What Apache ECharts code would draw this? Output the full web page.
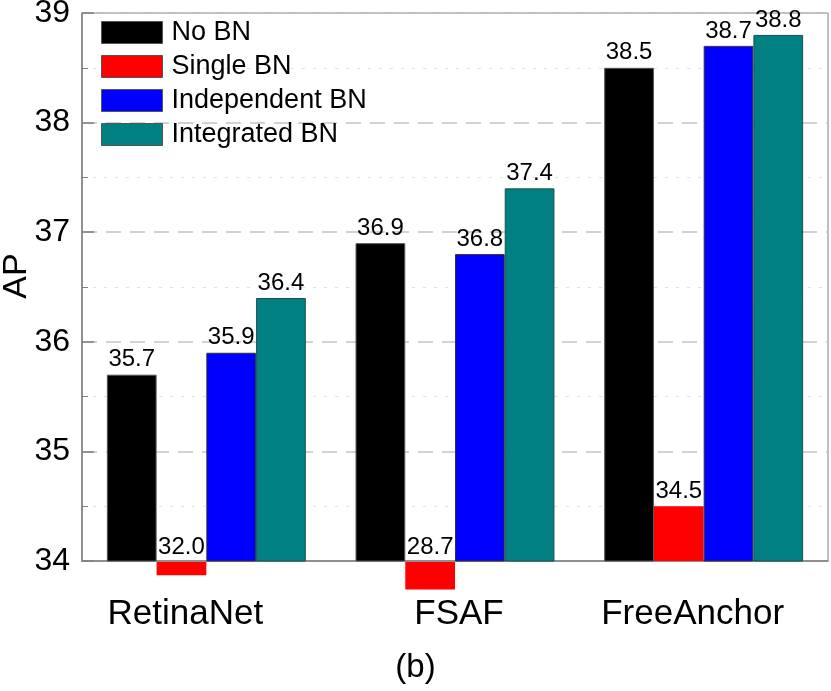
<!DOCTYPE html>
<html>
<head>
<meta charset="utf-8">
<script src="https://cdn.jsdelivr.net/npm/echarts@6/dist/echarts.min.js"></script>
<style>
  html, body { margin: 0; padding: 0; background: #fff; }
  #chart { width: 831px; height: 691px; }
</style>
</head>
<body>
<div id="chart"></div>
<script>
const categories = ["RetinaNet", "FSAF", "FreeAnchor"];
const noBN = [35.7, 36.9, 38.5];
const singleBN = [32.0, 28.7, 34.5];
// where the red bars end in the picture (the two low ones are drawn short, below the axis)
const singleBNDrawn = [33.88, 33.75, 34.5];
const independentBN = [35.9, 36.8, 38.7];
const integratedBN = [36.4, 37.4, 38.8];
const yTicks = [34, 35, 36, 37, 38, 39];

const yMin = yTicks[0];
const font = "Liberation Sans, Arial, sans-serif";
const gray = "#808080";

const chart = echarts.init(document.getElementById("chart"));

function valueLabel(values) {
  return {
    show: true,
    position: "top",
    distance: 3,
    color: "#000",
    fontFamily: font,
    fontSize: 24,
    formatter: (p) => values[p.dataIndex].toFixed(1),
  };
}

const border = { borderColor: "#333", borderWidth: 1 };

let option = {
  animation: false,
  textStyle: { fontFamily: font },
  title: {
    text: "(b)",
    left: "center",
    top: 646,
    textStyle: { fontFamily: font, fontSize: 33, fontWeight: "normal", color: "#000" },
  },
  legend: {
    data: ["No BN", "Single BN", "Independent BN", "Integrated BN"],
    orient: "vertical",
    icon: "rect",
    left: 101,
    top: 19,
    padding: 0,
    itemWidth: 61,
    itemHeight: 22,
    itemGap: 7,
    itemStyle: { borderColor: "#555", borderWidth: 1 },
    textStyle: {
      fontFamily: font,
      fontSize: 27,
      color: "#000",
      lineHeight: 22,
      padding: [0, 0, 0, 4],
    },
  },
  grid: [
    { left: 82, right: 3, top: 13, bottom: 130, show: true, borderColor: gray, borderWidth: 1, outerBoundsMode: "none" },
    { left: 82, right: 3, top: 562, height: 40, outerBoundsMode: "none" },
  ],
  xAxis: [
    {
      type: "category",
      gridIndex: 0,
      data: categories,
      axisLine: { lineStyle: { color: gray, width: 1.5 } },
      axisTick: { inside: true, length: 5, lineStyle: { color: gray } },
      axisLabel: {
        interval: 0,
        hideOverlap: false,
        margin: 36,
        color: "#000",
        fontFamily: font,
        fontSize: 35,
        formatter: (v, i) => "{c" + i + "|" + v + "}",
        rich: {
          c0: { fontFamily: font, fontSize: 35, color: "#000", padding: [0, 42, 0, 0] },
          c1: { fontFamily: font, fontSize: 35, color: "#000", padding: [0, 0, 0, 8] },
          c2: { fontFamily: font, fontSize: 35, color: "#000", padding: [0, 22, 0, 0] },
        },
      },
    },
    { type: "category", gridIndex: 1, data: categories, show: false },
  ],
  yAxis: [
    {
      type: "value",
      gridIndex: 0,
      min: yMin,
      max: yTicks[yTicks.length - 1],
      interval: 1,
      name: "AP",
      nameLocation: "middle",
      nameGap: 48,
      nameMoveOverlap: false,
      nameTextStyle: { fontFamily: font, fontSize: 34, color: "#000", padding: [0, 0, 0, 22] },
      axisLine: { show: true, lineStyle: { color: gray, width: 1.5 } },
      axisTick: { show: true, inside: true, length: 12, lineStyle: { color: gray, width: 1.5 } },
      minorTick: { show: true, splitNumber: 2, length: 6, lineStyle: { color: gray } },
      axisLabel: { margin: 12, color: "#000", fontFamily: font, fontSize: 32 },
      splitLine: { show: true, lineStyle: { color: "#c4c4c4", type: [15, 9], width: 1.5 } },
      minorSplitLine: { show: true, lineStyle: { color: "#e2e2e2", type: [3, 8], width: 1 } },
    },
    { type: "value", gridIndex: 1, min: -40 / 109.6, max: 0, show: false, splitLine: { show: false } },
  ],
  series: [
    {
      name: "No BN", type: "bar", xAxisIndex: 0, yAxisIndex: 0,
      barWidth: "20%", barGap: "0%", barCategoryGap: "20%",
      itemStyle: { color: "#000", borderColor: "#555", borderWidth: 1 },
      label: valueLabel(noBN),
      data: noBN,
    },
    {
      name: "Single BN", type: "bar", xAxisIndex: 0, yAxisIndex: 0,
      barWidth: "20%", barGap: "0%",
      itemStyle: { color: "#ff0000" },
      label: valueLabel(singleBN),
      data: singleBNDrawn.map((v) => (v >= yMin ? v : "-")),
    },
    {
      name: "Independent BN", type: "bar", xAxisIndex: 0, yAxisIndex: 0,
      barWidth: "20%", barGap: "0%",
      itemStyle: Object.assign({ color: "#0000ff" }, border),
      label: valueLabel(independentBN),
      data: independentBN,
    },
    {
      name: "Integrated BN", type: "bar", xAxisIndex: 0, yAxisIndex: 0,
      barWidth: "20%", barGap: "0%",
      itemStyle: { color: "#008080", borderColor: "#1f4f4f", borderWidth: 1 },
      label: valueLabel(integratedBN),
      data: integratedBN,
    },
    // lower strip: red bars of the values that fall under 34
    {
      name: "No BN", type: "bar", xAxisIndex: 1, yAxisIndex: 1,
      barWidth: "20%", barGap: "0%", barCategoryGap: "20%",
      itemStyle: { color: "#000" },
      data: categories.map(() => "-"),
    },
    {
      name: "Single BN", type: "bar", xAxisIndex: 1, yAxisIndex: 1,
      barWidth: "20%", barGap: "0%",
      itemStyle: { color: "#ff0000" },
      label: valueLabel(singleBN),
      data: singleBNDrawn.map((v) => (v < yMin ? v - yMin : "-")),
    },
    {
      name: "Independent BN", type: "bar", xAxisIndex: 1, yAxisIndex: 1,
      barWidth: "20%", barGap: "0%",
      itemStyle: { color: "#0000ff" },
      data: categories.map(() => "-"),
    },
    {
      name: "Integrated BN", type: "bar", xAxisIndex: 1, yAxisIndex: 1,
      barWidth: "20%", barGap: "0%",
      itemStyle: { color: "#008080" },
      data: categories.map(() => "-"),
    },
  ],
};
chart.setOption(option);
</script>
</body>
</html>
